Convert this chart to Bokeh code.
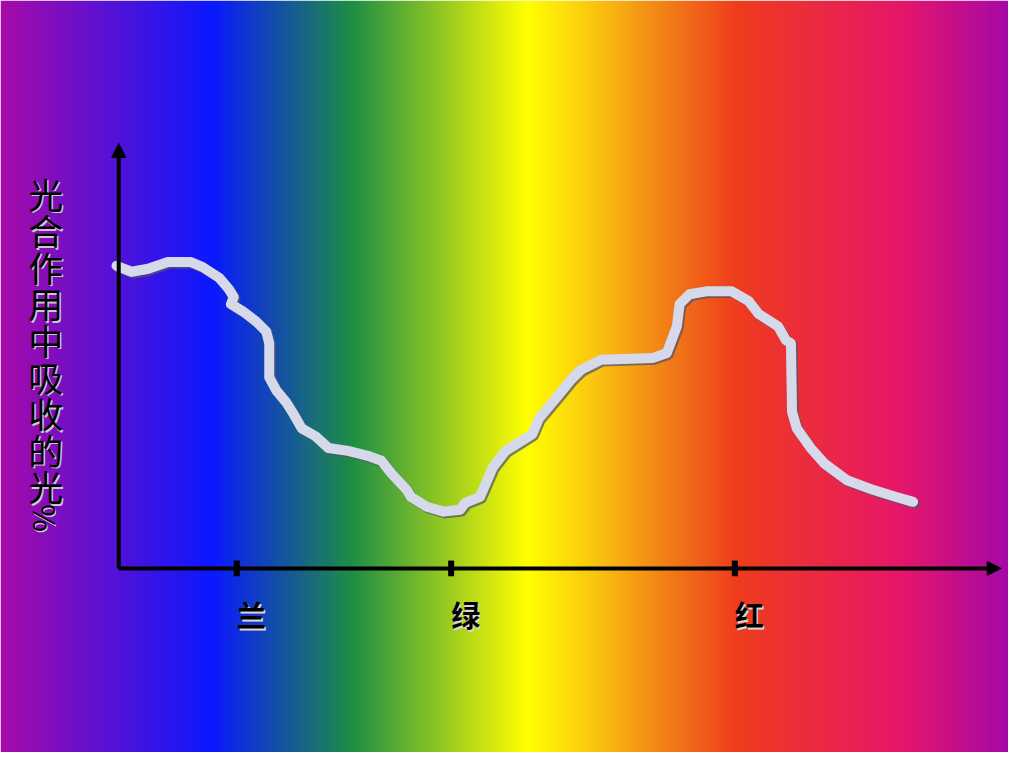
import numpy as np
from bokeh.plotting import figure
from bokeh.models import Range1d, Arrow, NormalHead
from bokeh.core.properties import value
from bokeh.embed import file_html
from bokeh.resources import INLINE

# ---- data ----
wavelength = [394.5, 401.4, 409.1, 418.2, 428.6, 434.1, 441.8, 446.4, 448.6, 447.3,
              453.2, 459.1, 463.6, 465.0, 465.0, 468.2, 472.7, 476.4, 480.0, 486.4,
              492.3, 501.4, 510.5, 516.8, 521.4, 528.6, 530.5, 537.7, 545.5, 553.2,
              555.5, 562.3, 568.2, 574.1, 586.4, 589.5, 598.6, 604.5, 609.1, 618.2,
              642.3, 648.6, 653.2, 654.5, 659.1, 666.8, 678.6, 686.4, 690.9, 700.0,
              703.6, 705.9, 706.4, 708.6, 715.0, 721.4, 731.8, 744.1, 754.5, 762.3]
absorb = [77.25, 75.75, 76.5, 78.25, 78.25, 77.0, 74.25, 71.25, 69.25, 67.5,
          65.5, 63.0, 60.5, 57.5, 48.75, 45.5, 42.5, 39.25, 35.75, 33.75,
          30.75, 30.0, 28.75, 27.5, 24.25, 20.0, 18.25, 15.75, 14.5, 15.0,
          16.75, 18.25, 25.75, 30.0, 34.25, 38.25, 44.25, 48.25, 50.75, 53.25,
          53.75, 55.0, 61.75, 67.5, 70.0, 70.75, 70.75, 68.25, 65.0, 61.75,
          58.25, 57.5, 40.0, 35.75, 30.75, 26.75, 22.5, 20.0, 18.25, 17.0]
tick_values = [450, 549, 680]
tick_labels = ["兰", "绿", "红"]
y_label_chars = ["光", "合", "作", "用", "中", "吸", "收", "的", "光"]
y_label_tail = "%"
x_origin = 395.5
x_end = 803.0
y_end = 108.5

# ---- layout helpers (reference-picture pixel -> data) ----
PX_NM = 2.2
PX_UNIT = 4.0
def dx(X):
    return 450 + (X - 240) / PX_NM
def dy(Y):
    return (580 - Y) / PX_UNIT

W, H = 1008, 752
p = figure(width=W, height=H, x_range=Range1d(dx(0), dx(1024)),
           y_range=Range1d(dy(768), dy(0)), output_backend="svg",
           toolbar_location=None, min_border=0, x_axis_type=None, y_axis_type=None)
p.grid.visible = False
p.outline_line_color = None
p.background_fill_color = None
p.border_fill_color = "white"

# ---- background gradient ----
stop_pos = [0, 215, 357, 512, 535, 600, 675, 748, 915, 1024]
stop_rgb = [(168, 10, 168), (10, 24, 255), (30, 142, 68), (228, 240, 10), (255, 255, 0),
            (250, 200, 15), (242, 128, 22), (238, 60, 28), (230, 22, 105), (165, 8, 168)]
xs = (np.arange(W) + 0.5) * 1024 / W
img = np.zeros((2, W), dtype=np.uint32)
view = img.view(dtype=np.uint8).reshape((2, W, 4))
for c in range(3):
    ch = np.interp(xs, stop_pos, [s[c] for s in stop_rgb])
    view[:, :, c] = np.round(ch).astype(np.uint8)
view[:, :, 3] = 255
p.image_rgba(image=[img], x=dx(0), y=dy(768), dw=dx(1024) - dx(0), dh=dy(0) - dy(768))

# ---- axes ----
p.add_layout(Arrow(end=NormalHead(size=14, fill_color="black", line_color="black"),
                   x_start=x_origin, y_start=0, x_end=x_end, y_end=0,
                   line_width=4, line_color="black"))
p.add_layout(Arrow(end=NormalHead(size=14, fill_color="black", line_color="black"),
                   x_start=x_origin, y_start=0, x_end=x_origin, y_end=y_end,
                   line_width=4, line_color="black"))
p.segment(x0=tick_values, y0=[-2] * 3, x1=tick_values, y1=[2] * 3,
          line_width=6, line_color="black")

# ---- curve ----
sx, sy = 1.8 / PX_NM, -1.8 / PX_UNIT
p.line([w + sx for w in wavelength], [a + sy for a in absorb], line_width=10,
       line_color="#55556a", line_alpha=0.75, line_join="round", line_cap="round")
p.line(wavelength, absorb, line_width=10, line_color="#d6d9ea",
       line_join="round", line_cap="round")

# ---- tick labels ----
font = value("Noto Sans CJK SC")
ly = dy(627)
p.text(x=[t + 1.5 / PX_NM for t in tick_values], y=[ly - 1.5 / PX_UNIT] * 3, text=tick_labels,
       text_font=font, text_font_size="29px", text_font_style="bold",
       text_color="#d8d8d8", text_align="left", text_baseline="middle")
p.text(x=tick_values, y=[ly] * 3, text=tick_labels,
       text_font=font, text_font_size="29px", text_font_style="bold",
       text_color="black", text_align="left", text_baseline="middle")

# ---- y label (vertical) ----
pitch = 37.3
cx = 46
cys = [197 + i * pitch for i in range(len(y_label_chars))]
p.text(x=[dx(cx + 1.5)] * len(cys), y=[dy(c + 1.5) for c in cys], text=y_label_chars,
       text_font=font, text_font_size="35px", text_color="#c8c8d0",
       text_align="center", text_baseline="middle")
p.text(x=[dx(cx)] * len(cys), y=[dy(c) for c in cys], text=y_label_chars,
       text_font=font, text_font_size="35px", text_color="black",
       text_align="center", text_baseline="middle")
ty = 197 + len(y_label_chars) * pitch - 4
p.text(x=[dx(cx + 1.5)], y=[dy(ty + 1.5)], text=[y_label_tail], angle=-np.pi / 2,
       text_font=font, text_font_size="30px", text_color="#c8c8d0",
       text_align="center", text_baseline="middle")
p.text(x=[dx(cx)], y=[dy(ty)], text=[y_label_tail], angle=-np.pi / 2,
       text_font=font, text_font_size="30px", text_color="black",
       text_align="center", text_baseline="middle")

open("out.html", "w").write(file_html(p, INLINE))
